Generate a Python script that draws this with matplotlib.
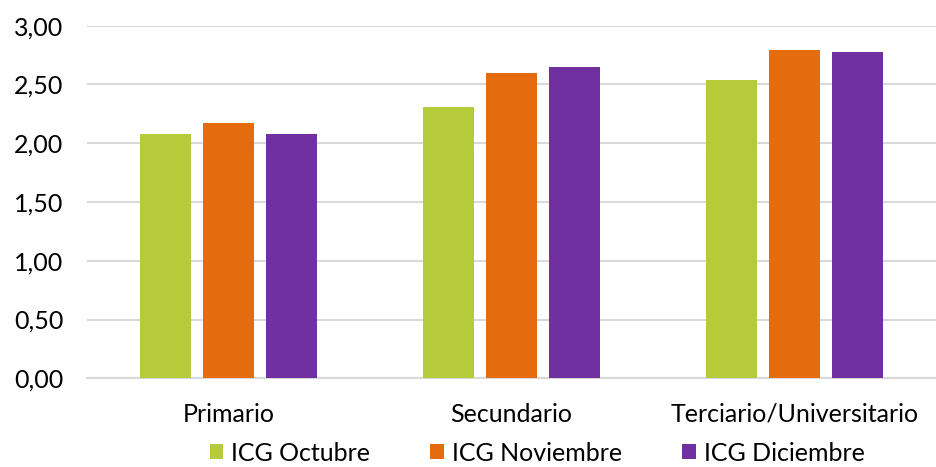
import matplotlib
matplotlib.use("Agg")
import matplotlib.pyplot as plt
import numpy as np

categories = ["Primario", "Secundario", "Terciario/Universitario"]
series_names = ["ICG Octubre", "ICG Noviembre", "ICG Diciembre"]
octubre = [2.08, 2.31, 2.54]
noviembre = [2.17, 2.60, 2.79]
diciembre = [2.08, 2.65, 2.78]
colors = ["#B5CB3A", "#E46C0E", "#7030A0"]
yticks = [0, 0.5, 1.0, 1.5, 2.0, 2.5, 3.0]

plt.rcParams["font.family"] = ["Lato", "DejaVu Sans"]
fs = 18

fig = plt.figure(figsize=(9.36, 4.67), dpi=100)
ax = fig.add_axes([0.093, 0.19, 0.907, 0.755])

x = np.arange(len(categories))
w = 0.18
step = 0.224
for i, (vals, name, c) in enumerate(zip([octubre, noviembre, diciembre], series_names, colors)):
    ax.bar(x + (i - 1) * step, vals, w, color=c, label=name, zorder=3)

ax.set_xlim(-0.5, 2.5)
ax.set_ylim(0, 3.0)
ax.set_yticks(yticks)
ax.set_yticklabels([f"{v:.2f}".replace(".", ",") for v in yticks], fontsize=fs)
ax.set_xticks(x)
ax.set_xticklabels(categories, fontsize=fs)
ax.tick_params(axis="y", length=0, pad=17)
ax.tick_params(axis="x", length=0, pad=17.5)
ax.grid(axis="y", color="#D9D9D9", linewidth=1.5, zorder=0)
for s in ["top", "right", "left"]:
    ax.spines[s].set_visible(False)
ax.spines["bottom"].set_color("#D9D9D9")
ax.spines["bottom"].set_linewidth(1.5)

fig.legend(loc="lower center", bbox_to_anchor=(0.574, -0.043), ncol=3, frameon=False,
           fontsize=fs, handlelength=0.55, handleheight=0.55, handletextpad=0.32,
           columnspacing=2.4)

fig.savefig("out.png", dpi=100)
